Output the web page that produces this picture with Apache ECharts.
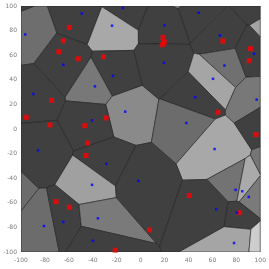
<!DOCTYPE html>
<html><head><meta charset="utf-8">
<script src="https://cdn.jsdelivr.net/npm/echarts@6/dist/echarts.min.js"></script>
<style>html,body{margin:0;padding:0;background:#fff}#c{width:269px;height:269px}</style>
</head><body><div id="c"></div>
<script>
// Voronoi seeds (blue points)
const seedX = [-49.2,-14.8,-96.5,-23.9,-64.6,-23.1,-38.2,-89.6,-12.9,-40.6,
               48.6,20.0,66.2,94.8,19.5,70.1,60.5,45.6,97.0,38.2,
               -85.7,-28.6,-40.6,-80.8,-64.6,-35.7,-39.8,
               61.8,-1.9,79.4,84.9,90.4,63.2,80.5,78.1];
const seedY = [94.0,98.4,76.9,84.0,52.2,43.2,34.7,28.5,14.1,7.0,
               94.5,84.3,76.1,61.2,53.8,51.6,40.8,25.8,23.9,4.9,
               -17.4,-28.3,-45.4,-78.9,-75.6,-72.6,-90.9,
               -16.3,-42.2,-49.5,-50.6,-55.2,-65.3,-68.0,-92.7];
// gray level of each cell (0-255)
const cellGray = [64,64,110,168,64,64,120,64,138,64,
                  64,64,64,64,64,112,165,64,120,108,
                  64,64,160,108,64,122,64,
                  168,64,115,170,122,64,64,165];
// seeds lying outside the visible axes (their cells show at the edges)
const hiddenX = [-116, 98.8, 114, 32, 104, 120, 104, -110];
const hiddenY = [-50.4, 106.5, 80, 116, 12, -32, -95, 112];
const hiddenGray = [108, 64, 165, 160, 64, 118, 205, 64];
// red squares
const redX = [-59.6,-64.6,-68.4,-52.2,-31.1,-74.4,-95.6,-28.9,-75.8,-46.7,
              18.7,19.8,18.1,68.7,91.8,90.7,64.6,96.5,
              -44.3,-45.6,-70.7,-59.6,-21.2,
              40.6,82.7,7.4];
const redY = [82.6,71.8,62.8,57.1,58.7,23.3,9.5,9.0,3.3,2.7,
              74.5,70.6,68.5,71.5,65.3,55.5,13.6,-4.5,
              -11.4,-21.5,-59.1,-63.6,-98.5,
              -54.1,-68.0,-82.1];
const ticks = [-100,-80,-60,-40,-20,0,20,40,60,80,100];

const allX = seedX.concat(hiddenX), allY = seedY.concat(hiddenY);
const allGray = cellGray.concat(hiddenGray);

function clipPoly(poly, a, b, c) { // keep a*x+b*y<=c
  const out = [];
  for (let k = 0; k < poly.length; k++) {
    const p = poly[k], q = poly[(k + 1) % poly.length];
    const fp = a * p[0] + b * p[1] - c, fq = a * q[0] + b * q[1] - c;
    if (fp <= 0) out.push(p);
    if ((fp < 0 && fq > 0) || (fp > 0 && fq < 0)) {
      const t = fp / (fp - fq);
      out.push([p[0] + t * (q[0] - p[0]), p[1] + t * (q[1] - p[1])]);
    }
  }
  return out;
}
const cells = allX.map((sx, i) => {
  const sy = allY[i];
  let poly = [[ticks[0],ticks[0]],[ticks[10],ticks[0]],[ticks[10],ticks[10]],[ticks[0],ticks[10]]];
  allX.forEach((tx, j) => {
    if (j === i) return;
    const ty = allY[j];
    poly = clipPoly(poly, 2*(tx-sx), 2*(ty-sy), tx*tx+ty*ty-sx*sx-sy*sy);
  });
  return poly;
});

const chart = echarts.init(document.getElementById('c'));
const lbl = {fontSize: 6, color: '#7a7a7a', fontFamily: 'DejaVu Sans'};
const axisCommon = {
  type: 'value', min: -100, max: 100, interval: 20,
  axisLine: {show: false}, axisTick: {show: false}, splitLine: {show: false}
};
chart.setOption({
  animation: false,
  grid: {left: 21, right: 5, top: 6, bottom: 17},
  xAxis: Object.assign({}, axisCommon, {axisLabel: Object.assign({margin: 5}, lbl)}),
  yAxis: Object.assign({}, axisCommon, {axisLabel: Object.assign({margin: 4}, lbl)}),
  series: [
    {
      type: 'custom',
      data: cells.map((c, i) => i).filter(i => cells[i].length > 2),
      clip: true,
      renderItem: function (params, api) {
        const i = api.value(0);
        const pts = cells[i].map(p => api.coord(p));
        const g = allGray[i];
        return {
          type: 'polygon',
          shape: {points: pts},
          style: {fill: 'rgb(' + g + ',' + g + ',' + g + ')', stroke: '#1e1e1e', lineWidth: 0.6}
        };
      }
    },
    {
      type: 'scatter', symbol: 'rect', symbolSize: 5,
      itemStyle: {color: '#ff0000'},
      data: redX.map((x, i) => [x, redY[i]])
    },
    {
      type: 'scatter', symbol: 'rect', symbolSize: 2.5,
      itemStyle: {color: '#0000ff'},
      data: seedX.map((x, i) => [x, seedY[i]])
    }
  ]
});
</script></body></html>
